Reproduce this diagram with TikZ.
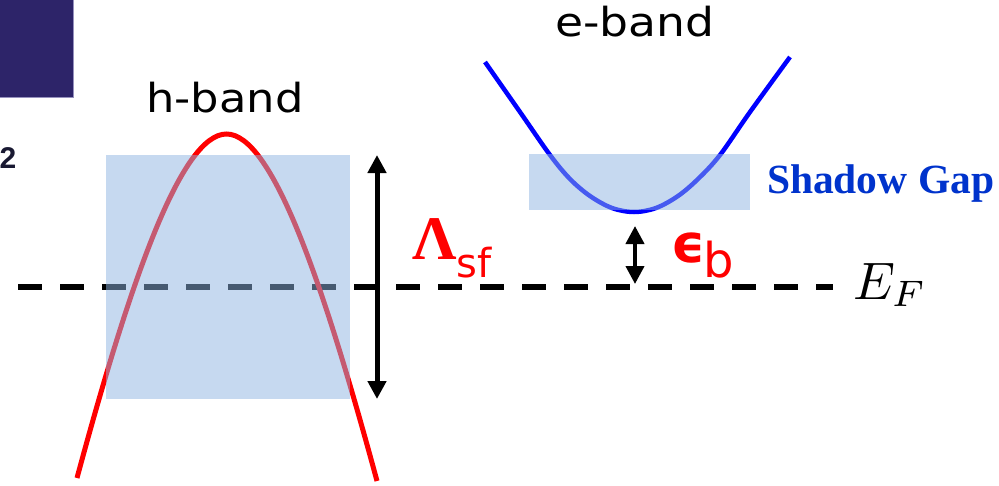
\documentclass[tikz,border=0pt]{standalone}
\usepackage{fontspec}
\usetikzlibrary{arrows.meta}
\newfontfamily\dejavu{DejaVu Sans}
\newfontfamily\libserif{Liberation Serif}
\newfontfamily\libsans{Liberation Sans}
\definecolor{navy}{RGB}{45,36,105}
\definecolor{navyedge}{RGB}{150,145,190}
\definecolor{boxblue}{RGB}{141,180,226}
\definecolor{gapblue}{RGB}{0,51,204}
\definecolor{digit}{RGB}{25,25,50}
\tikzset{
  shadowbox/.style={fill=boxblue,fill opacity=0.5,draw=none},
  bandcurve/.style={line width=5pt},
  fermiline/.style={line width=6pt,dash pattern=on 24pt off 18pt},
  gaparrow/.style={line width=#1,{Triangle[width=18pt,length=18pt]}-{Triangle[width=18pt,length=18pt]}},
  lbl/.style={inner sep=0pt,outer sep=0pt},
}
\begin{document}
\begin{tikzpicture}[x=1pt,y=-1pt]
\useasboundingbox (0,0) rectangle (999,485);
% corner decoration
\fill[navy] (0,0) rectangle (73,97);
\draw[navyedge,line width=0.8pt] (0,97) -- (73.4,97) -- (73.4,0);
\node[lbl,anchor=base west,text=digit] (two) at (-0.5,168) {\libsans\bfseries\fontsize{30}{34}\selectfont 2};
% Fermi level
\coordinate (efL) at (18,287);
\coordinate (efR) at (833,287);
\draw[fermiline] (efL) -- (efR);
% h-band
\draw[red,bandcurve] (77,478) .. controls (131,278) and (181.5,134) .. (226.5,134)
   .. controls (271.5,134) and (322,278) .. (377,481);
% e-band
\draw[blue,bandcurve,line width=4.5pt,smooth,tension=0.55] plot coordinates {(485,62) (520,112) (550,155) (570,179) (590,196) (612,208) (634,212) (656,208) (678,196) (698,179) (720,155) (750,112) (790,57)};
% shadow boxes
\fill[shadowbox] (106,155) rectangle (350,399);
\fill[shadowbox] (529,154) rectangle (750,210);
% labels
\node[lbl,anchor=base] (hband) at (225,112) {\dejavu\fontsize{40}{48}\selectfont\scalebox{1.12}[1]{h-band}};
\node[lbl,anchor=base] (eband) at (635,36) {\dejavu\fontsize{40}{48}\selectfont\scalebox{1.14}[1]{e-band}};
\node[lbl,anchor=base west,text=gapblue] (gap) at (767,193) {\libserif\bfseries\fontsize{41.5}{48}\selectfont Shadow Gap};
\node[lbl,anchor=base west,text=red] (lam) at (412,259) {\libserif\bfseries\fontsize{62}{70}\selectfont Λ\raisebox{-18pt}{\dejavu\mdseries\fontsize{40}{48}\selectfont sf}};
\node[lbl,anchor=base west,text=red] (eps) at (671,262) {\dejavu\bfseries\fontsize{53}{60}\selectfont ϵ\kern-2pt\raisebox{-15pt}{\mdseries\fontsize{48}{56}\selectfont b}};
\node[lbl,anchor=base west] (ef) at (853,299) {\scalebox{5.27}{$E_F$}};
% gap arrows
\coordinate (lamTop) at (377,155);
\coordinate (lamBot) at (377,399);
\draw[gaparrow=5pt] (lamTop) -- (lamBot);
\coordinate (epsTop) at (635,226);
\coordinate (epsBot) at (635,284);
\draw[gaparrow=4pt] (epsTop) -- (epsBot);
\end{tikzpicture}
\end{document}
